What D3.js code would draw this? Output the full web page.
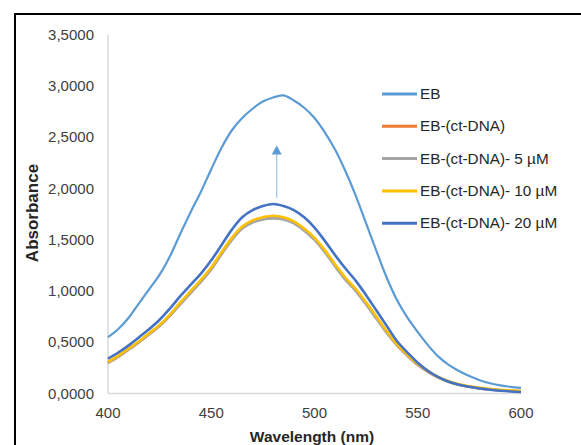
<!DOCTYPE html>
<html>
<head>
<meta charset="utf-8">
<script src="https://cdn.jsdelivr.net/npm/d3@7"></script>
<style>
  html, body { margin: 0; padding: 0; background: #fff; }
  svg { display: block; font-family: "Liberation Sans", Arial, sans-serif; }
</style>
</head>
<body>
<div id="chart"></div>
<script>
// wavelengths (nm), one reading every 5 nm
let wavelengths = [400, 405, 410, 415, 420, 425, 430, 435, 440, 445, 450, 455, 460, 465, 470,
  475, 480, 485, 490, 495, 500, 505, 510, 515, 520, 525, 530, 535, 540, 545, 550,
  555, 560, 565, 570, 575, 580, 585, 590, 595, 600];

let absEB = [0.55, 0.63, 0.74, 0.88, 1.02, 1.16, 1.34, 1.56, 1.77, 1.97, 2.19, 2.40, 2.57, 2.69, 2.78,
  2.85, 2.89, 2.91, 2.86, 2.79, 2.69, 2.55, 2.38, 2.17, 1.93, 1.66, 1.39, 1.13, 0.91, 0.74, 0.60,
  0.47, 0.36, 0.28, 0.22, 0.17, 0.13, 0.10, 0.08, 0.065, 0.055];

let absDNA = [0.30, 0.36, 0.43, 0.50, 0.58, 0.66, 0.76, 0.88, 0.99, 1.10, 1.22, 1.37, 1.51, 1.62, 1.68,
  1.71, 1.72, 1.71, 1.67, 1.60, 1.51, 1.39, 1.25, 1.12, 1.01, 0.88, 0.74, 0.60, 0.47, 0.37, 0.28,
  0.21, 0.155, 0.115, 0.085, 0.065, 0.05, 0.04, 0.032, 0.027, 0.022];

let abs5 = [0.30, 0.36, 0.43, 0.50, 0.58, 0.66, 0.76, 0.87, 0.98, 1.09, 1.21, 1.36, 1.50, 1.61, 1.67,
  1.70, 1.71, 1.70, 1.66, 1.59, 1.50, 1.38, 1.24, 1.11, 1.00, 0.87, 0.73, 0.59, 0.47, 0.37, 0.28,
  0.21, 0.155, 0.115, 0.085, 0.065, 0.05, 0.04, 0.032, 0.027, 0.022];

let abs10 = [0.31, 0.37, 0.44, 0.51, 0.59, 0.67, 0.77, 0.89, 1.00, 1.11, 1.23, 1.38, 1.52, 1.63, 1.69,
  1.72, 1.735, 1.72, 1.68, 1.61, 1.52, 1.40, 1.26, 1.13, 1.02, 0.89, 0.75, 0.61, 0.48, 0.38, 0.29,
  0.22, 0.16, 0.12, 0.09, 0.07, 0.055, 0.045, 0.035, 0.03, 0.025];

let abs20 = [0.34, 0.40, 0.47, 0.55, 0.63, 0.72, 0.83, 0.95, 1.06, 1.17, 1.30, 1.45, 1.60, 1.72, 1.79,
  1.83, 1.85, 1.83, 1.79, 1.72, 1.62, 1.49, 1.35, 1.22, 1.10, 0.96, 0.81, 0.66, 0.51, 0.40, 0.30,
  0.22, 0.16, 0.115, 0.085, 0.065, 0.048, 0.036, 0.027, 0.02, 0.015];

let seriesNames = ["EB", "EB-(ct-DNA)", "EB-(ct-DNA)- 5 µM", "EB-(ct-DNA)- 10 µM", "EB-(ct-DNA)- 20 µM"];
let seriesColors = ["#5B9BD5", "#ED7D31", "#A5A5A5", "#FFC000", "#4472C4"];
let seriesValues = [absEB, absDNA, abs5, abs10, abs20];

let xTicks = [400, 450, 500, 550, 600];
let yTicks = [0, 0.5, 1, 1.5, 2, 2.5, 3, 3.5];

// arrow annotation: wavelength, from absorbance, to absorbance
let arrowAt = [481.7, 1.91, 2.42];

let width = 581, height = 445;
let margin = { left: 108, right: 60, top: 35, bottom: 51 };

let svg = d3.select("#chart").append("svg")
  .attr("width", width)
  .attr("height", height);

// outer frame (cut off by the picture on right and bottom)
svg.append("rect")
  .attr("x", 15).attr("y", 14)
  .attr("width", 620).attr("height", 480)
  .attr("fill", "none")
  .attr("stroke", "#000")
  .attr("stroke-width", 2);

let x = d3.scaleLinear().domain([400, 600]).range([margin.left, width - margin.right]);
let y = d3.scaleLinear().domain([0, 3.5]).range([height - margin.bottom - 0.5, margin.top]);

let fmt = v => d3.format(".4f")(v).replace(".", ",");

// axis lines
svg.append("line")
  .attr("x1", x(400)).attr("x2", x(400))
  .attr("y1", y(3.5)).attr("y2", y(0))
  .attr("stroke", "#d9d9d9").attr("stroke-width", 1.5);
svg.append("line")
  .attr("x1", x(400)).attr("x2", x(600))
  .attr("y1", y(0)).attr("y2", y(0))
  .attr("stroke", "#d9d9d9").attr("stroke-width", 1.5);

svg.selectAll("text.ytick")
  .data(yTicks)
  .enter()
  .append("text")
  .attr("class", "ytick")
  .attr("x", x(400) - 14)
  .attr("y", d => y(d) + 5)
  .attr("text-anchor", "end")
  .attr("font-size", "15px")
  .attr("fill", "#404040")
  .text(fmt);

svg.selectAll("text.xtick")
  .data(xTicks)
  .enter()
  .append("text")
  .attr("class", "xtick")
  .attr("x", d => x(d))
  .attr("y", y(0) + 24)
  .attr("text-anchor", "middle")
  .attr("font-size", "15px")
  .attr("fill", "#404040")
  .text(d => d);

// axis titles
svg.append("text")
  .attr("x", 312)
  .attr("y", 442)
  .attr("text-anchor", "middle")
  .attr("font-size", "15.5px")
  .attr("font-weight", "700")
  .attr("fill", "#262626")
  .text("Wavelength (nm)");

svg.append("text")
  .attr("transform", "translate(38,213) rotate(-90)")
  .attr("text-anchor", "middle")
  .attr("font-size", "17px")
  .attr("font-weight", "700")
  .attr("fill", "#262626")
  .text("Absorbance");

// curves
let line = d3.line()
  .x((d, i) => x(wavelengths[i]))
  .y(d => y(d))
  .curve(d3.curveCatmullRom.alpha(0.5));

svg.selectAll("path.series")
  .data(seriesValues)
  .enter()
  .append("path")
  .attr("class", "series")
  .attr("d", d => line(d))
  .attr("fill", "none")
  .attr("stroke", (d, i) => seriesColors[i])
  .attr("stroke-width", (d, i) => i == 0 ? 2.2 : 2.6)
  .attr("stroke-linejoin", "round");

// arrow
svg.append("line")
  .attr("x1", x(arrowAt[0])).attr("x2", x(arrowAt[0]))
  .attr("y1", y(arrowAt[1])).attr("y2", y(arrowAt[2]) + 8)
  .attr("stroke", "#9DC3E6").attr("stroke-width", 1.2);
svg.append("path")
  .attr("d", `M${x(arrowAt[0])},${y(arrowAt[2])} l5,9 l-10,0 Z`)
  .attr("fill", "#5B9BD5");

// legend
let legend = svg.selectAll("g.legend")
  .data(seriesNames)
  .enter()
  .append("g")
  .attr("class", "legend")
  .attr("transform", (d, i) => `translate(382,${94 + i * 32.3})`);

legend.append("line")
  .attr("x1", 0).attr("x2", 35)
  .attr("y1", 0).attr("y2", 0)
  .attr("stroke", (d, i) => seriesColors[i])
  .attr("stroke-width", 3);

legend.append("text")
  .attr("x", 38)
  .attr("y", 5)
  .attr("font-size", "15.3px")
  .attr("fill", "#262626")
  .text(d => d);
</script>
</body>
</html>
